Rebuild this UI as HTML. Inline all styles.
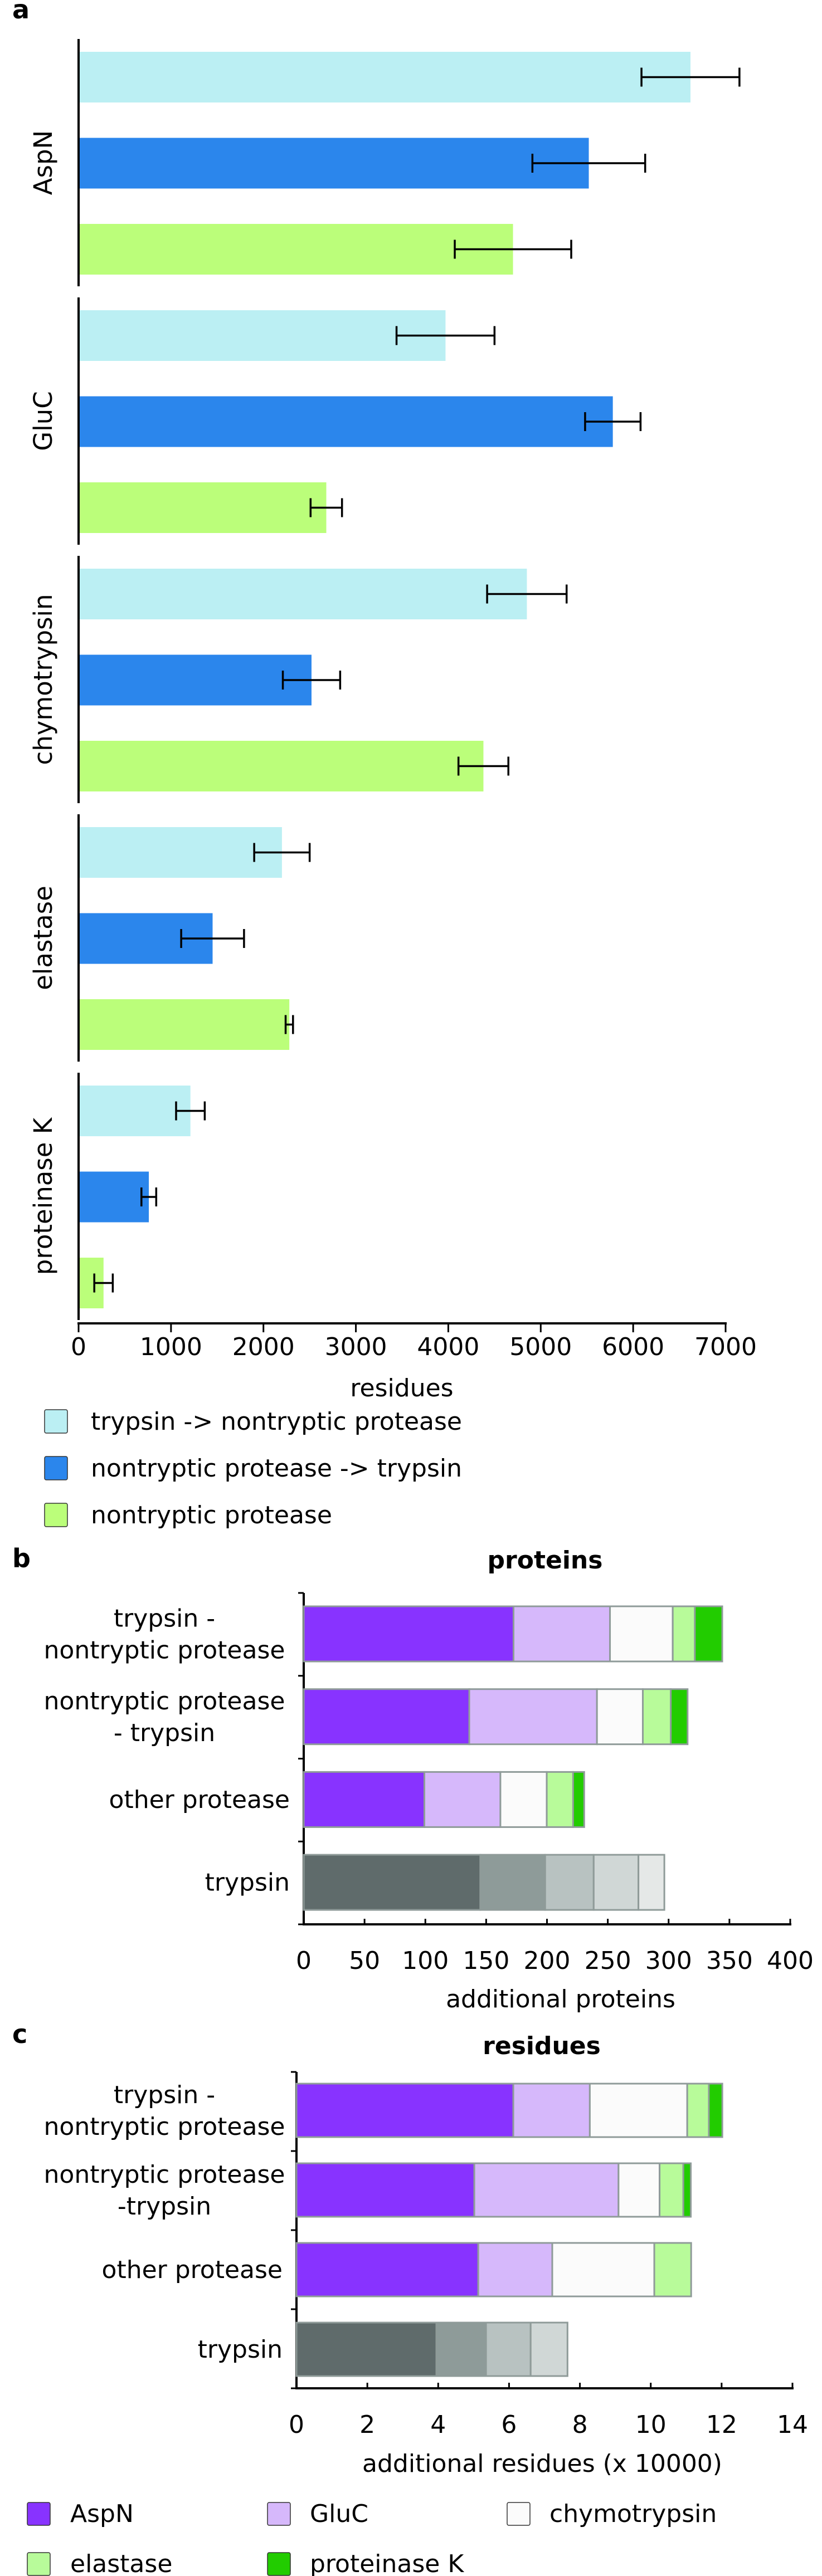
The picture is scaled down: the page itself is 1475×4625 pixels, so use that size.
<!DOCTYPE html>
<html><head><meta charset="utf-8"><style>
body{margin:0;background:#fff}
svg{display:block;font-family:"DejaVu Sans","Liberation Sans",sans-serif}
</style></head><body>
<svg id="fig" width="1475" height="4625" viewBox="0 0 1475 4625" xmlns="http://www.w3.org/2000/svg">
<text x="22" y="33" font-size="46" font-weight="bold">a</text>
<text x="22" y="2814" font-size="46" font-weight="bold">b</text>
<text x="22" y="3668" font-size="46" font-weight="bold">c</text>
<g id="ga"></g>
<g id="gb"></g>
<g id="gc"></g>
</svg>
<script>
// Panel a data
const aGroups = ["AspN","GluC","chymotrypsin","elastase","proteinase K"];
const aSeries = ["trypsin -> nontryptic protease","nontryptic protease -> trypsin","nontryptic protease"];
const aTrypNon = [6620,3970,4850,2200,1210];
const aNonTryp = [5520,5780,2520,1450,760];
const aNon = [4700,2680,4380,2280,270];
const aErrTrypNon = [530,530,430,300,155];
const aErrNonTryp = [610,300,310,340,80];
const aErrNon = [630,170,270,40,100];
const aTicks = [0,1000,2000,3000,4000,5000,6000,7000];
// Panel b data
const bCats = [["trypsin -","nontryptic protease"],["nontryptic protease","- trypsin"],["other protease"],["trypsin"]];
const bAspN = [172.5,136.1,99.2,145.2];
const bGluC = [79.3,105.0,62.5,53.3];
const bChymo = [51.6,37.7,38.1,39.9];
const bElast = [18.2,23.0,21.7,36.8];
const bProtK = [22.5,13.8,9.1,21.3];
const bTicks = [0,50,100,150,200,250,300,350,400];
// Panel c data
const cCats = [["trypsin -","nontryptic protease"],["nontryptic protease","-trypsin"],["other protease"],["trypsin"]];
const cAspN = [6.12,5.02,5.13,3.95];
const cGluC = [2.16,4.07,2.09,1.40];
const cChymo = [2.75,1.16,2.88,1.26];
const cElast = [0.61,0.67,1.04,1.04];
const cProtK = [0.38,0.21,0,0];
const cTicks = [0,2,4,6,8,10,12,14];
const legendNames = ["AspN","GluC","chymotrypsin","elastase","proteinase K"];

const NS="http://www.w3.org/2000/svg";
function mk(parent,tag,attrs,text){const e=document.createElementNS(NS,tag);for(const k in attrs)e.setAttribute(k,attrs[k]);if(text!==undefined)e.textContent=text;parent.appendChild(e);return e;}

// ---- Panel a ----
(function(){
const g=document.getElementById('ga');
const x0=141, pxPer=(1302-141)/7000;
const xs=v=>x0+v*pxPer;
const colors=["#bbeff3","#2b86ec","#bbfe7a"];
const vals=[aTrypNon,aNonTryp,aNon], errs=[aErrTrypNon,aErrNonTryp,aErrNon];
const gStart=70, gStep=464, bStep=154.5, bH=91;
aGroups.forEach((name,i)=>{
  const top=gStart+i*gStep;
  const ax=mk(g,'line',{x1:x0,x2:x0,y1:top,y2:top+444,stroke:'#000','stroke-width':4});
  
  
  const lbl=mk(g,'text',{x:0,y:0,'font-size':45,'text-anchor':'middle',transform:`translate(93,${top+222}) rotate(-90)`},name);
  
  
  for(let s=0;s<3;s++){
    const y=top+23+s*bStep, v=vals[s][i], e=errs[s][i];
    const r=mk(g,'rect',{x:x0+2,y:y,width:xs(v)-x0-2,height:bH,fill:colors[s]});
    
    
    const cy=y+bH/2, xa=xs(v-e), xb=xs(v+e);
    const eb=mk(g,'path',{d:`M${xa},${cy}H${xb}M${xa},${cy-17}V${cy+17}M${xb},${cy-17}V${cy+17}`,stroke:'#000','stroke-width':3.5,fill:'none'});
    
    
  }
});
const axY=2376;
mk(g,'line',{x1:x0-2,x2:1304,y1:axY,y2:axY,stroke:'#000','stroke-width':4});
aTicks.forEach(t=>{
  mk(g,'line',{x1:xs(t),x2:xs(t),y1:axY,y2:axY+16,stroke:'#000','stroke-width':3});
  const tl=mk(g,'text',{x:xs(t),y:2433,'font-size':44,'text-anchor':'middle'},t);
  
  
});
const xt=mk(g,'text',{x:721,y:2507,'font-size':44,'text-anchor':'middle'},'residues');


aSeries.forEach((n,s)=>{
  const cy=2552+s*84;
  const b=mk(g,'rect',{x:80,y:cy-21,width:41,height:42,rx:3,fill:colors[s],stroke:'#333','stroke-width':1.5});
  
  
  const t=mk(g,'text',{x:163,y:cy+15,'font-size':44},n);
  
  
});
})();

// ---- Stacked panels ----
function stacked(gid,cfg){
const g=document.getElementById(gid);
const xs=v=>cfg.x0+(v/cfg.max)*(cfg.x1-cfg.x0);
const t=mk(g,'text',{x:cfg.titleX,y:cfg.titleY,'font-size':44,'font-weight':'bold','text-anchor':'middle'},cfg.title);


mk(g,'line',{x1:cfg.x0,x2:cfg.x0,y1:cfg.top,y2:cfg.axY+2,stroke:'#000','stroke-width':4});
for(let k=0;k<=4;k++){const y=cfg.top+k*(cfg.axY-cfg.top)/4;mk(g,'line',{x1:cfg.x0-10,x2:cfg.x0,y1:y,y2:y,stroke:'#000','stroke-width':3});}
mk(g,'line',{x1:cfg.x0-2,x2:cfg.x1+2,y1:cfg.axY,y2:cfg.axY,stroke:'#000','stroke-width':4});
cfg.ticks.forEach(v=>{
  mk(g,'line',{x1:xs(v),x2:xs(v),y1:cfg.axY,y2:cfg.axY-10,stroke:'#000','stroke-width':3});
  const tl=mk(g,'text',{x:xs(v),y:cfg.axY+80,'font-size':44,'text-anchor':'middle'},v);
  
  
});
const xt=mk(g,'text',{x:cfg.xtX,y:cfg.xtY,'font-size':44,'text-anchor':'middle'},cfg.xtitle);


const colsNorm=["#8833ff","#d6b8fb","#fbfbfb","#b8fb9a","#22cc00"];
const colsGray=["#5f6b6b","#8e9b99","#b8c2c1","#d0d7d6","#e5e8e7"];
cfg.cats.forEach((lines,i)=>{
  const y=cfg.barTop+i*cfg.step, cy=y+cfg.bH/2;
  const cols=(i===cfg.cats.length-1)?colsGray:colsNorm;
  let acc=0;
  cfg.series.forEach((arr,s)=>{
    const v=arr[i]; if(v<=0)return;
    const r=mk(g,'rect',{x:xs(acc),y:y,width:xs(acc+v)-xs(acc),height:cfg.bH,fill:cols[s],stroke:'#8f9b99','stroke-width':3});
    
    
    acc+=v;
  });
  const tx=mk(g,'text',{'font-size':44,'text-anchor':'middle'});
  
  
  if(lines.length===1){tx.setAttribute('text-anchor','end');tx.setAttribute('x',cfg.x0-25);tx.setAttribute('y',cy+15);tx.textContent=lines[0];}
  else{
    lines.forEach((ln,k)=>{const ts=mk(tx,'tspan',{x:cfg.labelCx,y:cy-28+k*57+15},ln);});
  }
});
}
stacked('gb',{x0:545,x1:1418,max:400,top:2860,axY:3455,barTop:2884,step:148.7,bH:99,ticks:bTicks,
 title:'proteins',titleX:978,titleY:2816,xtitle:'additional proteins',xtX:1006,xtY:3604,labelCx:295,
 cats:bCats,series:[bAspN,bGluC,bChymo,bElast,bProtK]});
stacked('gc',{x0:532,x1:1422,max:14,top:3720,axY:4288,barTop:3741,step:143,bH:96,ticks:cTicks,
 title:'residues',titleX:972,titleY:3688,xtitle:'additional residues (x 10000)',xtX:973,xtY:4438,labelCx:295,
 cats:cCats,series:[cAspN,cGluC,cChymo,cElast,cProtK]});

// legend panel c
(function(){
const g=document.getElementById('gc');
const cols=["#8833ff","#d6b8fb","#fbfbfb","#b8fb9a","#22cc00"];
const pos=[[49,126,4513],[480,556,4513],[910,986,4513],[49,126,4603],[480,556,4603]];
legendNames.forEach((n,i)=>{
  const [bx,tx,cy]=pos[i];
  const b=mk(g,'rect',{x:bx,y:cy-20,width:41,height:41,rx:3,fill:cols[i],stroke:'#333','stroke-width':1.5});
  
  
  const t=mk(g,'text',{x:tx,y:cy+15,'font-size':44},n);
  
  
});
})();
</script>
</body></html>
